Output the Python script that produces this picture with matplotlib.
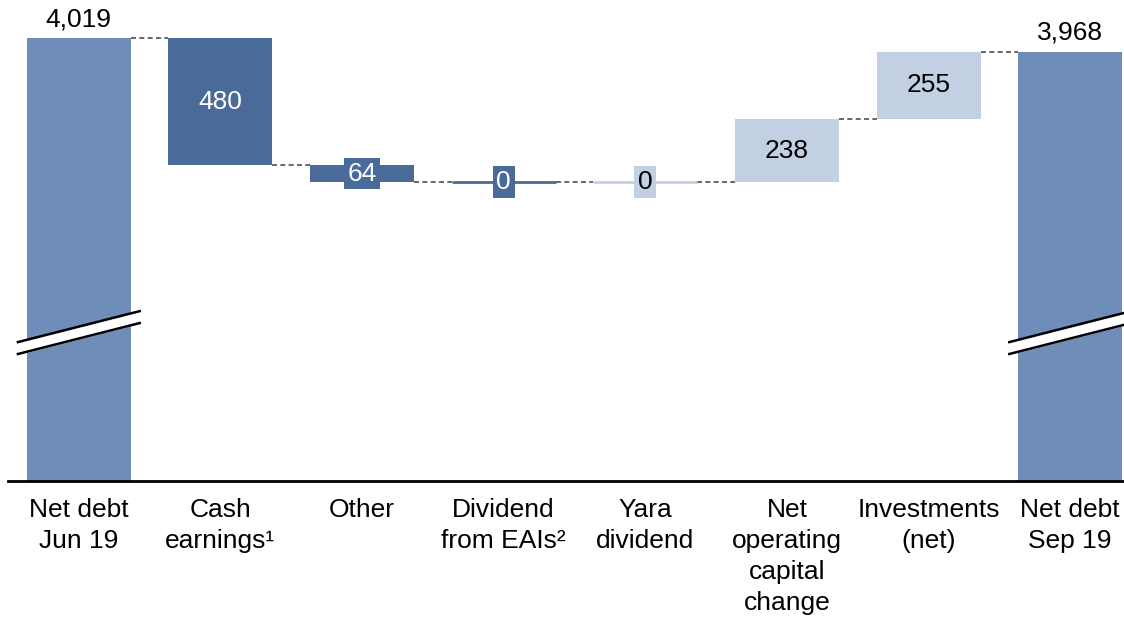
import matplotlib.pyplot as plt
import numpy as np

plt.rcParams['font.family'] = ['Liberation Sans', 'DejaVu Sans']

categories = ['Net debt\nJun 19', 'Cash\nearnings\u00b9', 'Other', 'Dividend\nfrom EAIs\u00b2',
              'Yara\ndividend', 'Net\noperating\ncapital\nchange', 'Investments\n(net)',
              'Net debt\nSep 19']
values = [4019, -480, -64, 0, 0, 238, 255, 3968]
labels = ['4,019', '480', '64', '0', '0', '238', '255', '3,968']
is_total = [True, False, False, False, False, False, False, True]

c_total = '#6E8DB9'
c_dark = '#4A6A9A'
c_light = '#C3CFE2'
colors = [c_total, c_dark, c_dark, c_dark, c_light, c_light, c_light, c_total]
text_colors = ['black', 'white', 'white', 'white', 'black', 'black', 'black', 'black']

y_low, y_high = 2345, 4163
width = 0.735

fig = plt.figure(figsize=(11.24, 6.19), dpi=100)
ax = fig.add_axes([8 / 1124, 138 / 619, 1 - 8 / 1124, 481 / 619])

x = np.arange(len(values))
bottoms = []
tops = []
level = 0
for i, v in enumerate(values):
    if is_total[i]:
        bottoms.append(y_low)
        tops.append(v)
        level = v
    else:
        new = level + v
        bottoms.append(min(level, new))
        tops.append(max(level, new))
        level = new

for i in range(len(values)):
    h = tops[i] - bottoms[i]
    if h == 0:
        ax.bar(x[i], 0, width, bottom=bottoms[i], color=colors[i],
               edgecolor=colors[i], linewidth=2, zorder=2)
    else:
        ax.bar(x[i], h, width, bottom=bottoms[i], color=colors[i], zorder=2)

# connectors
lvl = []
level = 0
for i, v in enumerate(values):
    level = v if is_total[i] else level + v
    lvl.append(level)
for i in range(len(values) - 1):
    ax.plot([x[i] + width / 2, x[i + 1] - width / 2], [lvl[i], lvl[i]],
            color='#4d4d4d', linestyle=(0, (3, 2)), linewidth=1.2, zorder=1)

# value labels
for i in range(len(values)):
    if is_total[i]:
        ax.text(x[i], tops[i] + 25, labels[i], ha='center', va='bottom',
                fontsize=19, color='black')
    elif tops[i] - bottoms[i] >= 150:
        ax.text(x[i], (tops[i] + bottoms[i]) / 2, labels[i], ha='center', va='center',
                fontsize=19, color=text_colors[i])
    else:
        ax.text(x[i], (tops[i] + bottoms[i]) / 2, labels[i], ha='center', va='center',
                fontsize=19, color=text_colors[i], zorder=3,
                bbox=dict(boxstyle='square,pad=0.14', facecolor=colors[i], edgecolor='none'))

# axis break marks on totals
for i in [0, len(values) - 1]:
    bx = np.array([x[i] - 0.43, x[i] + 0.43])
    by = np.array([2870, 2987])
    gap = 45
    ax.fill_between(bx, by - gap, by, color='white', zorder=4, clip_on=False)
    ax.plot(bx, by, color='black', linewidth=1.8, zorder=5, clip_on=False)
    ax.plot(bx, by - gap, color='black', linewidth=1.8, zorder=5, clip_on=False)

ax.set_xlim(-0.5, 7.38)
ax.set_ylim(y_low, y_high)
ax.set_xticks(x)
ax.set_xticklabels(categories, fontsize=19, linespacing=1.37)
ax.tick_params(axis='x', length=0, pad=12)
ax.set_yticks([])
for s in ['top', 'left', 'right']:
    ax.spines[s].set_visible(False)
ax.spines['bottom'].set_linewidth(2)
ax.spines['bottom'].set_zorder(6)

fig.savefig('out.png', dpi=100)
